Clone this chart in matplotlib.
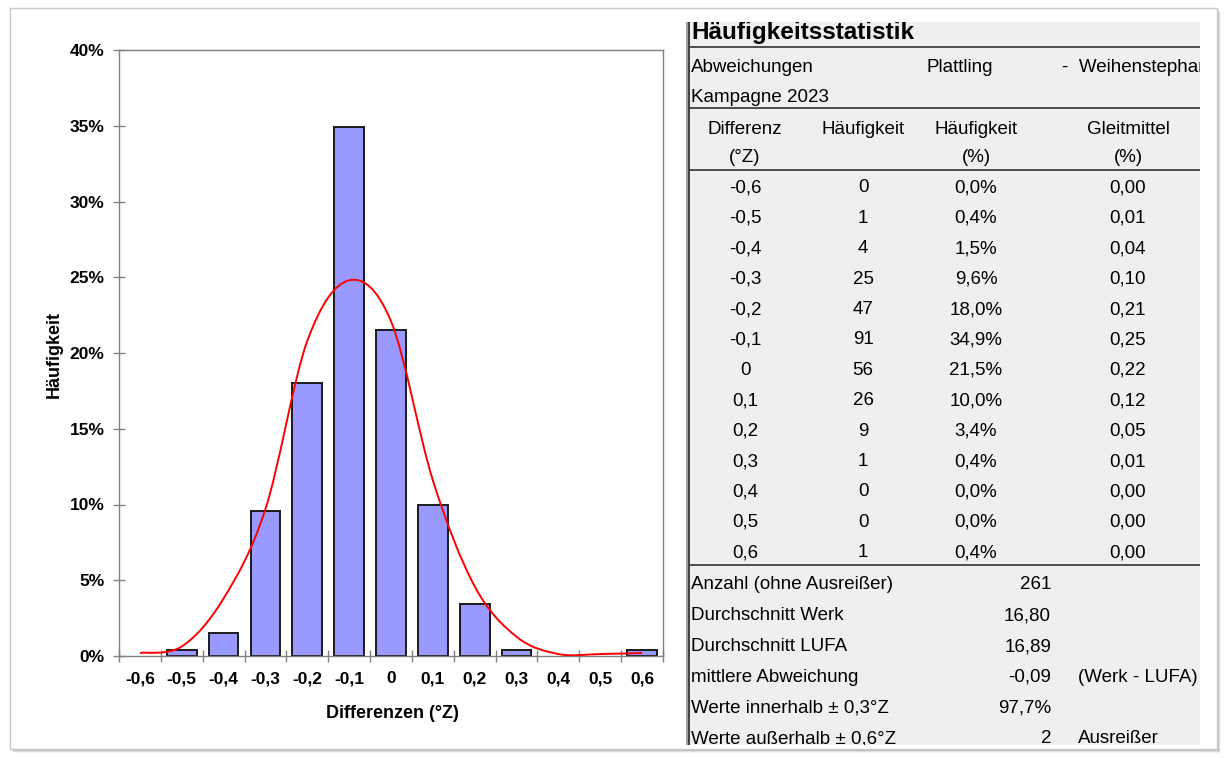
import matplotlib
matplotlib.use("Agg")
import matplotlib.pyplot as plt
from matplotlib.path import Path
from matplotlib.patches import PathPatch, Rectangle
import numpy as np

plt.rcParams['font.family'] = ['Liberation Sans', 'DejaVu Sans']

# data
differenz = [-0.6, -0.5, -0.4, -0.3, -0.2, -0.1, 0.0, 0.1, 0.2, 0.3, 0.4, 0.5, 0.6]
diff_labels = ['-0,6', '-0,5', '-0,4', '-0,3', '-0,2', '-0,1', '0',
               '0,1', '0,2', '0,3', '0,4', '0,5', '0,6']
haeufigkeit = [0, 1, 4, 25, 47, 91, 56, 26, 9, 1, 0, 0, 1]
haeufigkeit_pct = [0.0, 0.4, 1.5, 9.6, 18.0, 34.9, 21.5, 10.0, 3.4, 0.4, 0.0, 0.0, 0.4]
gleitmittel_pct = [0.2, 0.63, 3.8, 9.7, 20.8, 24.8, 22.1, 11.6, 4.6, 1.27, 0.13, 0.13, 0.2]

stat_labels = ['Anzahl (ohne Ausreißer)', 'Durchschnitt Werk', 'Durchschnitt LUFA',
               'mittlere Abweichung', 'Werte innerhalb \u00b1 0,3°Z', 'Werte außerhalb \u00b1 0,6°Z']
stat_values = ['261', '16,80', '16,89', '-0,09', '97,7%', '2']
stat_notes = ['', '', '', '(Werk - LUFA)', '', 'Ausreißer']

W, H = 1225, 758
fig = plt.figure(figsize=(W / 100, H / 100), dpi=100)


def px(x0, y0, x1, y1):
    # pixel box (top-left origin) -> figure fraction rect
    return [x0 / W, 1 - y1 / H, (x1 - x0) / W, (y1 - y0) / H]


# outer frame with a soft shadow
for i, a in enumerate([0.05, 0.08, 0.12, 0.18]):
    off = 4 - i
    fig.patches.append(Rectangle(((10 + off) / W, 1 - (749 + off) / H), 1207 / W, 741 / H,
                                 transform=fig.transFigure, facecolor='#000000', alpha=a,
                                 edgecolor='none', zorder=0))
fig.patches.append(Rectangle((10 / W, 1 - 749 / H), 1207 / W, 741 / H,
                             transform=fig.transFigure, facecolor='white',
                             edgecolor='#c8c8c8', lw=1, zorder=1))

# ---- histogram ----
ax = fig.add_axes(px(119, 50, 663, 656))
ax.set_zorder(2)
x = np.arange(len(differenz))
bars = ax.bar(x, haeufigkeit_pct, width=0.71, color='#9999FF', edgecolor='#1a1a1a', lw=1.4, zorder=2)
for b, v in zip(bars, haeufigkeit_pct):
    if v == 0:
        b.set_linewidth(0)

# smoothed line (Excel style, Catmull-Rom bezier through the points)
pts = np.column_stack([x, gleitmittel_pct]).astype(float)
verts = [tuple(pts[0])]
codes = [Path.MOVETO]
n = len(pts)
for i in range(n - 1):
    p0 = pts[max(i - 1, 0)]
    p1 = pts[i]
    p2 = pts[i + 1]
    p3 = pts[min(i + 2, n - 1)]
    c1 = p1 + (p2 - p0) / 6
    c2 = p2 - (p3 - p1) / 6
    verts += [tuple(c1), tuple(c2), tuple(p2)]
    codes += [Path.CURVE4] * 3
ax.add_patch(PathPatch(Path(verts, codes), facecolor='none', edgecolor='#ff0000', lw=1.4, zorder=3))

ax.set_xlim(-0.5, len(differenz) - 0.5)
ax.set_ylim(0, 40)
ax.set_yticks(np.arange(0, 41, 5))
ax.set_yticklabels([f'{v}%' for v in range(0, 41, 5)])
ax.set_xticks(np.arange(-0.5, len(differenz), 1.0))
ax.set_xticklabels([])
ax.set_xticks(x, minor=True)
ax.set_xticklabels(diff_labels, minor=True)
ax.tick_params(axis='both', which='major', direction='inout', length=9, width=1, color='#808080')
ax.tick_params(axis='y', labelsize=12.5, pad=6)
ax.tick_params(axis='x', which='minor', length=0, labelsize=12.5, pad=11)
for lab in ax.get_yticklabels() + ax.get_xticklabels(minor=True):
    lab.set_fontweight('bold')
for s in ax.spines.values():
    s.set_color('#808080')
    s.set_linewidth(1)

fig.text(54 / W, 1 - 355 / H, 'Häufigkeit', rotation=90, ha='center', va='center',
         fontsize=13, fontweight='bold')
fig.text(392 / W, 1 - 713 / H, 'Differenzen (°Z)', ha='center', va='center',
         fontsize=13, fontweight='bold')

# ---- statistics table ----
tx0, ty0, tx1, ty1 = 686, 22, 1200, 745
tb = fig.add_axes(px(tx0, ty0, tx1, ty1))
tb.set_zorder(2)
tb.set_xlim(tx0, tx1)
tb.set_ylim(ty1, ty0)
tb.set_facecolor('#efefef')
for s in tb.spines.values():
    s.set_visible(False)
tb.set_xticks([])
tb.set_yticks([])
tb.axvline(tx0 + 0.5, color='#909090', lw=1.2)
tb.axvline(tx0 + 3, color='#404040', lw=1.4)

fs = 13.5
line_kw = dict(color='#404040', lw=1.3)
for yl in [47, 108, 170, 565]:
    tb.axhline(yl, xmin=3 / (tx1 - tx0), **line_kw)


def t(xp, yp, s, ha='left', **kw):
    tb.text(xp, yp, s, ha=ha, va='center', fontsize=fs, clip_on=True, **kw)


tx = 691
tb.text(tx, 33, 'Häufigkeitsstatistik', ha='left', va='center', fontsize=17.5,
        fontweight='bold', clip_on=True)
t(tx, 68, 'Abweichungen')
t(926, 68, 'Plattling')
t(1062, 68, '-  Weihenstephan')
t(tx, 97, 'Kampagne 2023')

col_x = [745, 863, 976, 1128]
for cx, h1, h2 in zip(col_x, ['Differenz', 'Häufigkeit', 'Häufigkeit', 'Gleitmittel'],
                      ['(°Z)', '', '(%)', '(%)']):
    t(cx, 129, h1, ha='center')
    t(cx, 158, h2, ha='center')

row0, dy = 188, 30.4
for i in range(len(differenz)):
    yy = row0 + i * dy
    t(col_x[0], yy, diff_labels[i], ha='center')
    t(col_x[1], yy, str(haeufigkeit[i]), ha='center')
    t(col_x[2], yy, f'{haeufigkeit_pct[i]:.1f}%'.replace('.', ','), ha='center')
    t(col_x[3], yy, f'{gleitmittel_pct[i] / 100:.2f}'.replace('.', ','), ha='center')

srow0, sdy = 585, 30.8
for i, (lab, val, note) in enumerate(zip(stat_labels, stat_values, stat_notes)):
    yy = srow0 + i * sdy
    t(tx, yy, lab)
    t(1051, yy, val, ha='right')
    if note:
        t(1078, yy, note)

fig.savefig('out.png', dpi=100)
